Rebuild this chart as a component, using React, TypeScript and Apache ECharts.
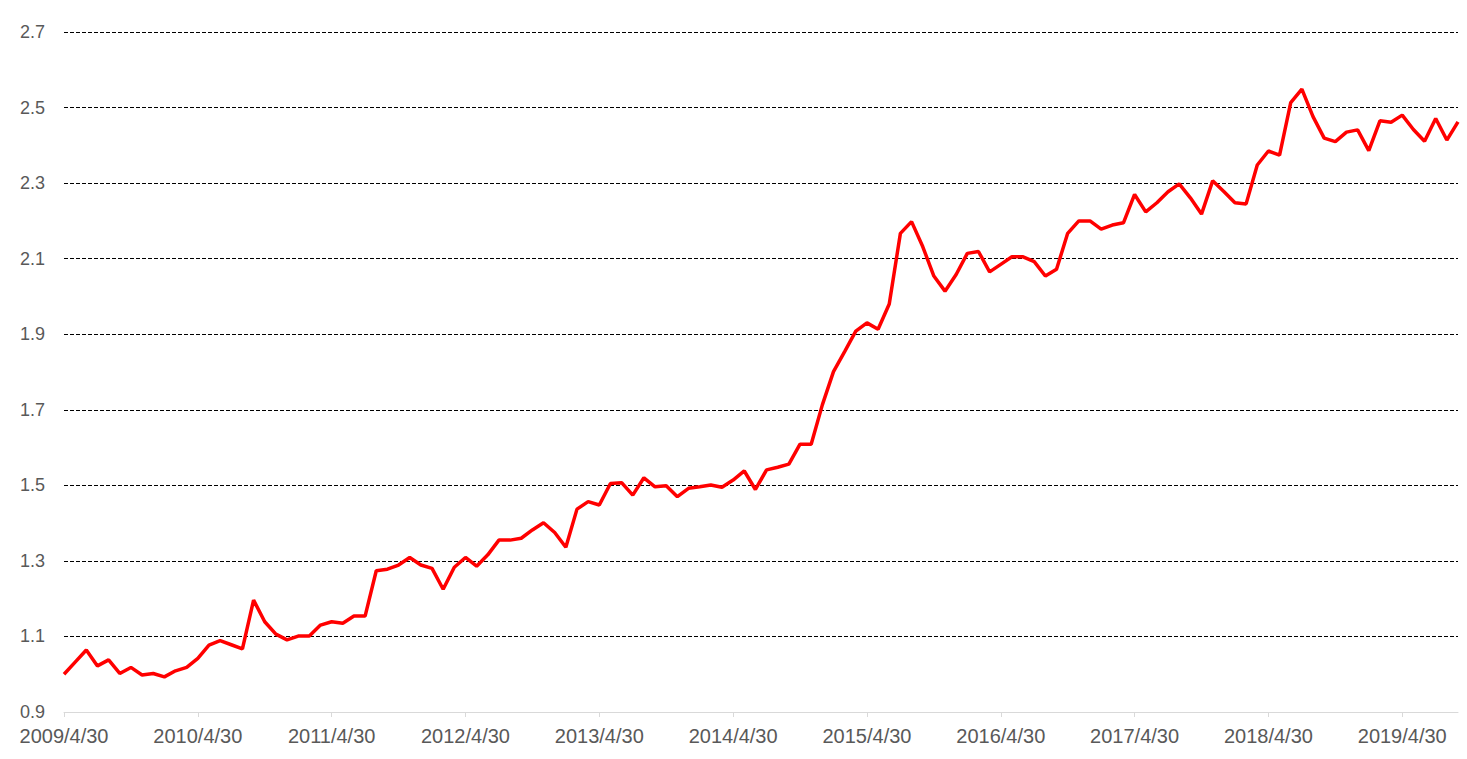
import React, { useEffect, useRef } from "react";
import * as echarts from "echarts";

const startYear = 2009;
const startMonth = 4; // April
const values: number[] = [
  1.000, 1.032, 1.064, 1.022, 1.038, 1.002, 1.018, 0.998, 1.002, 0.993,
  1.009, 1.018, 1.042, 1.077, 1.089, 1.078, 1.067, 1.196, 1.139, 1.106,
  1.091, 1.101, 1.101, 1.130, 1.139, 1.135, 1.154, 1.154, 1.274, 1.278,
  1.289, 1.309, 1.289, 1.280, 1.225, 1.283, 1.309, 1.286, 1.316, 1.355,
  1.355, 1.360, 1.382, 1.401, 1.375, 1.336, 1.437, 1.457, 1.448, 1.505,
  1.507, 1.474, 1.520, 1.496, 1.499, 1.470, 1.492, 1.496, 1.501, 1.495,
  1.514, 1.538, 1.489, 1.541, 1.548, 1.556, 1.609, 1.609, 1.713, 1.801,
  1.854, 1.908, 1.930, 1.913, 1.980, 2.167, 2.198, 2.132, 2.054, 2.014,
  2.058, 2.114, 2.119, 2.065, 2.085, 2.105, 2.105, 2.092, 2.054, 2.072,
  2.167, 2.200, 2.200, 2.178, 2.189, 2.195, 2.270, 2.224, 2.248, 2.277,
  2.298, 2.261, 2.218, 2.306, 2.278, 2.248, 2.245, 2.348, 2.385, 2.374,
  2.513, 2.549, 2.476, 2.419, 2.410, 2.435, 2.441, 2.386, 2.465, 2.461,
  2.480, 2.442, 2.411, 2.471, 2.414, 2.462,
];

// Month-end date categories, e.g. "2009/4/30"
const categories: string[] = values.map((_, i) => {
  const m0 = startMonth - 1 + i;
  const y = startYear + Math.floor(m0 / 12);
  const m = (m0 % 12) + 1;
  const d = new Date(y, m, 0).getDate();
  return `${y}/${m}/${d}`;
});

const yMin = 0.9;
const yMax = 2.7;
const yStep = 0.2;
const labelEvery = 12;

export default function App() {
  const ref = useRef<HTMLDivElement>(null);
  useEffect(() => {
    if (!ref.current) return;
    const chart = echarts.init(ref.current, undefined, { renderer: "svg" });
    const font = "'Liberation Sans', Arial, Helvetica, sans-serif";
    const showIdx = (i: number) => i % labelEvery === 0;
    chart.setOption({
      animation: false,
      backgroundColor: "#ffffff",
      grid: { left: 64, right: 9, top: 32, bottom: 47, containLabel: false },
      xAxis: {
        type: "category",
        data: categories,
        boundaryGap: false,
        axisLine: { show: true, lineStyle: { color: "#d9d9d9", width: 1 } },
        axisTick: { show: true, interval: showIdx, length: 5, lineStyle: { color: "#d9d9d9" } },
        axisLabel: {
          interval: showIdx,
          hideOverlap: false,
          color: "#595959",
          fontSize: 20,
          fontFamily: font,
          margin: 14,
        },
        splitLine: { show: false },
      },
      yAxis: {
        type: "value",
        min: yMin,
        max: yMax,
        interval: yStep,
        axisLine: { show: false },
        axisTick: { show: false },
        axisLabel: {
          color: "#595959",
          fontSize: 18,
          fontFamily: font,
          margin: 19,
          formatter: (v: number) => v.toFixed(1),
        },
        splitLine: {
          show: true,
          lineStyle: { color: "#000000", width: 1, type: [4, 2] },
        },
      },
      series: [
        {
          type: "line",
          data: values,
          showSymbol: false,
          symbol: "none",
          lineStyle: { color: "#ff0000", width: 3.5 },
          itemStyle: { color: "#ff0000" },
        },
      ],
    });
    return () => chart.dispose();
  }, []);
  return (
    <div
      ref={ref}
      style={{ position: "fixed", left: 0, top: 0, width: 1467, height: 759 }}
    />
  );
}
